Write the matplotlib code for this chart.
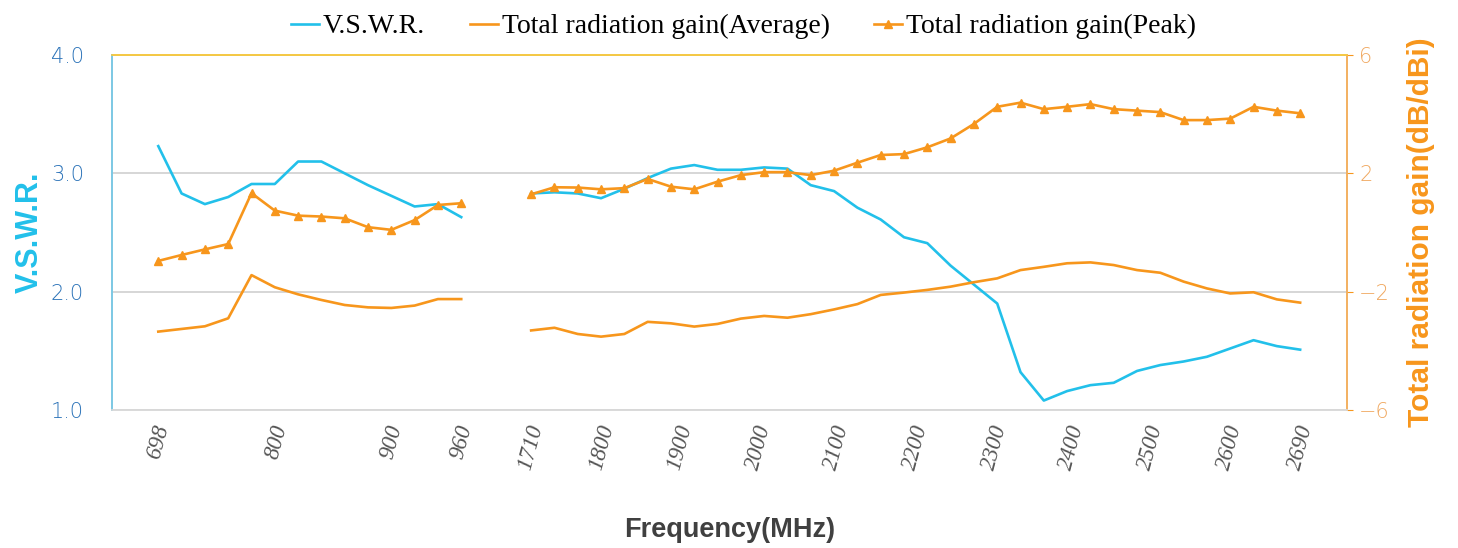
import numpy as np
import matplotlib
matplotlib.use("Agg")
import matplotlib.pyplot as plt

# sample index along the category axis (two bands with a gap between them)
low_band = list(range(0, 14))
high_band = list(range(16, 50))

vswr_low = [3.23, 2.83, 2.74, 2.80, 2.91, 2.91, 3.10, 3.10, 3.00, 2.90,
            2.81, 2.72, 2.74, 2.63]
vswr_high = [2.83, 2.84, 2.83, 2.79, 2.87, 2.96, 3.04, 3.07, 3.03, 3.03,
             3.05, 3.04, 2.90, 2.85, 2.71, 2.61, 2.46, 2.41, 2.22, 2.06,
             1.90, 1.32, 1.08, 1.16, 1.21, 1.23, 1.33, 1.38, 1.41, 1.45,
             1.52, 1.59, 1.54, 1.51]

avg_low = [-3.35, -3.26, -3.17, -2.90, -1.44, -1.85, -2.09, -2.28, -2.45,
           -2.53, -2.55, -2.47, -2.25, -2.25]
avg_high = [-3.31, -3.22, -3.43, -3.52, -3.43, -3.02, -3.07, -3.18, -3.09,
            -2.91, -2.82, -2.88, -2.76, -2.60, -2.42, -2.11, -2.03, -1.94,
            -1.83, -1.68, -1.55, -1.27, -1.16, -1.04, -1.01, -1.10, -1.27,
            -1.36, -1.66, -1.89, -2.06, -2.02, -2.26, -2.37]

peak_low = [-0.96, -0.76, -0.57, -0.39, 1.33, 0.74, 0.57, 0.54, 0.48, 0.18,
            0.09, 0.42, 0.93, 0.99]
peak_high = [1.29, 1.53, 1.52, 1.46, 1.50, 1.81, 1.55, 1.46, 1.72, 1.94,
             2.04, 2.04, 1.94, 2.09, 2.36, 2.62, 2.65, 2.88, 3.18, 3.67,
             4.25, 4.39, 4.17, 4.25, 4.34, 4.17, 4.12, 4.07, 3.80, 3.80,
             3.85, 4.25, 4.12, 4.03]

freq_labels = ["698", "800", "900", "960", "1710", "1800", "1900", "2000",
               "2100", "2200", "2300", "2400", "2500", "2600", "2690"]
freq_pos = [0, 5.06, 10.02, 13, 16, 19.03, 22.4, 25.77, 29.1, 32.5, 35.87,
            39.2, 42.6, 45.97, 49]

BLUE = "#22c0ea"
ORANGE = "#f7961c"

fig = plt.figure(figsize=(14.58, 5.48), dpi=100)
ax = fig.add_axes([0.0766, 0.2518, 0.8471, 0.6478])
ax2 = ax.twinx()

ax.plot(low_band, vswr_low, color=BLUE, lw=1.9, label="V.S.W.R.")
ax.plot(high_band, vswr_high, color=BLUE, lw=1.9)
ax2.plot(low_band, avg_low, color=ORANGE, lw=1.9,
         label="Total radiation gain(Average)")
ax2.plot(high_band, avg_high, color=ORANGE, lw=1.9)
ax2.plot(low_band, peak_low, color=ORANGE, lw=1.9, marker="^", ms=5.5,
         label="Total radiation gain(Peak)")
ax2.plot(high_band, peak_high, color=ORANGE, lw=1.9, marker="^", ms=5.5)

ax.set_xlim(-2, 51)
ax.set_ylim(1, 4)
ax2.set_ylim(-6, 6)
ax.set_yticks([1, 2, 3, 4])
ax.set_yticklabels(["1.0", "2.0", "3.0", "4.0"])
ax2.set_yticks([-6, -2, 2, 6])
ax.grid(axis="y", color="#d0d0d0", lw=1.2)
ax.set_axisbelow(True)

ax.set_xticks(freq_pos)
ax.set_xticklabels(freq_labels, rotation=75, family="Liberation Serif",
                   style="italic", fontsize=16.5, color="#555555")
ax.tick_params(axis="x", length=0, pad=9)
ax.tick_params(axis="y", length=0, labelsize=15, labelcolor="#2a72b8", pad=20)
ax2.tick_params(axis="y", length=4, color=ORANGE, labelsize=15,
                labelcolor="#f0a860", pad=5)
for t in ax.get_yticklabels() + ax2.get_yticklabels():
    t.set_family("DejaVu Sans")
    t.set_fontweight("light")

for a in (ax, ax2):
    a.spines["left"].set_color("#7cc8e4")
    a.spines["right"].set_color("#f3b060")
    a.spines["top"].set_color("#f5c842")
    a.spines["bottom"].set_color("#d9d9d9")
    for s in a.spines.values():
        s.set_linewidth(1.2)

ax.set_ylabel("V.S.W.R.", color=BLUE, fontsize=22, fontweight="bold",
              family="Liberation Sans", labelpad=4)
ax2.set_ylabel("Total radiation gain(dB/dBi)", color=ORANGE, fontsize=21.5,
               fontweight="bold", family="Liberation Sans", labelpad=12)
ax.set_xlabel("Frequency(MHz)", color="#404040", fontsize=19.5,
              fontweight="bold", family="Liberation Sans", labelpad=32)

h1, l1 = ax.get_legend_handles_labels()
h2, l2 = ax2.get_legend_handles_labels()
fig.legend(h1 + h2, l1 + l2, loc="upper center", bbox_to_anchor=(0.51, 1.02),
           ncol=3, frameon=False, handlelength=1.0, handletextpad=0.15,
           columnspacing=1.6, prop={"family": "Liberation Serif", "size": 20})

fig.savefig("out.png", dpi=100)
